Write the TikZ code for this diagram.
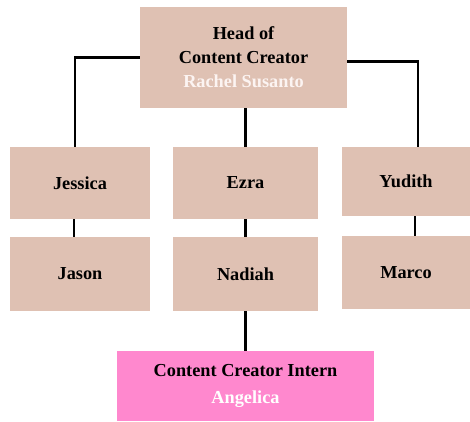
\documentclass[tikz,border=0pt]{standalone}
\usepackage{fontspec}
\setmainfont{Liberation Serif}
\definecolor{tan}{RGB}{223,193,179}
\definecolor{pinkbox}{RGB}{255,136,206}
\definecolor{softwhite}{RGB}{252,244,242}
\tikzset{
  box/.style={rectangle, fill=tan, draw=none, align=center, inner sep=0pt,
    font=\bfseries\fontsize{18.3}{24}\selectfont},
  internbox/.style={box, fill=pinkbox, font=\bfseries\fontsize{18.3}{27}\selectfont},
  link/.style={draw=black, line width=2.2pt}
}
\begin{document}
\begin{tikzpicture}[x=1pt,y=-1pt]
\useasboundingbox (0,0) rectangle (470,421);
\node[box, minimum width=207pt, minimum height=101pt] (head) at (243.5,57.5)
  {Head of\\Content Creator\\\textcolor{softwhite}{Rachel Susanto}};
\node[box, minimum width=140pt, minimum height=72pt] (jess) at (80,183) {Jessica};
\node[box, minimum width=145pt, minimum height=72pt] (ezra) at (245.5,183) {Ezra};
\node[box, minimum width=128pt, minimum height=69pt] (yud) at (406,181.5) {Yudith};
\node[box, minimum width=140pt, minimum height=74pt] (jason) at (80,274) {Jason};
\node[box, minimum width=145pt, minimum height=74pt] (nad) at (245.5,274) {Nadiah};
\node[box, minimum width=128pt, minimum height=73pt] (marco) at (406,272.5) {Marco};
\node[internbox, minimum width=257pt, minimum height=70pt] (intern) at (245.5,386)
  {Content Creator Intern\\\textcolor{white}{Angelica}};
\draw[link] ([yshift=0pt]head.west) -| ([xshift=-5pt]jess.north);
\draw[link] ([yshift=-4pt]head.east) -| ([xshift=12pt]yud.north);
\draw[link] (ezra.north) -- (ezra.north |- head.south);
\draw[link] ([xshift=-6pt]jess.south) -- ([xshift=-6pt]jason.north);
\draw[link] (ezra.south) -- (nad.north);
\draw[link] ([xshift=9pt]yud.south) -- ([xshift=9pt]marco.north);
\draw[link] (nad.south) -- (intern.north);
\end{tikzpicture}
\end{document}
